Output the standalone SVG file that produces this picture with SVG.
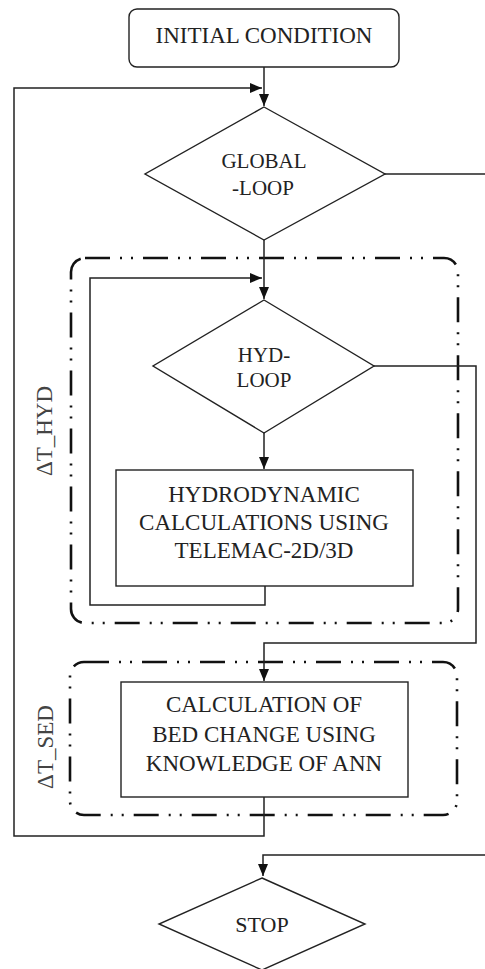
<svg xmlns="http://www.w3.org/2000/svg" width="485" height="969" viewBox="0 0 485 969">
<style>
.node{fill:#fff;stroke:#222;stroke-width:1.4}
.frame{fill:none;stroke:#111;stroke-width:2.6;stroke-dasharray:25 10 2 9 2 10}
.conn{fill:none;stroke:#222;stroke-width:1.5}
text{font-family:'Liberation Serif','Times New Roman',serif}
.t{fill:#222;text-anchor:middle}
.box{font-size:23px}
.dia{font-size:21px}
.lab{fill:#444;font-size:23px;text-anchor:middle}
</style>
<defs>
<marker id="ah" markerUnits="userSpaceOnUse" markerWidth="12" markerHeight="10" refX="12" refY="5" orient="auto" viewBox="0 0 12 10">
<path d="M0,0 L12,5 L0,10 z" fill="#111"/>
</marker>
</defs>
<g id="frames">
<rect id="frame-hyd" class="frame" x="71" y="258" width="387" height="365" rx="14"/>
<rect id="frame-sed" class="frame" x="70" y="662" width="387" height="153" rx="14"/>
<text class="lab" transform="translate(52,431) rotate(-90)">ΔT_HYD</text>
<text class="lab" transform="translate(53,747) rotate(-90)">ΔT_SED</text>
</g>
<g id="connectors">
<path class="conn" d="M264,67 V106" marker-end="url(#ah)"/>
<path class="conn" d="M264,797 V836 H14 V88 H262" marker-end="url(#ah)"/>
<path class="conn" d="M264,240 V299" marker-end="url(#ah)"/>
<path class="conn" d="M265,586 V605 H90 V278 H262" marker-end="url(#ah)"/>
<path class="conn" d="M264,433 V469" marker-end="url(#ah)"/>
<path class="conn" d="M374,366 H476 V643 H264 V681" marker-end="url(#ah)"/>
<path class="conn" d="M385,174 H485"/>
<path class="conn" d="M485,855 H263 V876" marker-end="url(#ah)"/>
</g>
<g id="initial">
<rect class="node" x="129" y="9" width="270" height="58" rx="8"/>
<text class="t box" x="264" y="43">INITIAL CONDITION</text>
</g>
<g id="global-loop">
<polygon class="node" points="264,107 385,174 264,240 145,174"/>
<text class="t dia" x="264" y="168">GLOBAL</text>
<text class="t dia" x="263" y="195">-LOOP</text>
</g>
<g id="hyd-loop">
<polygon class="node" points="264,300 374,366 264,433 153,366"/>
<text class="t dia" x="264" y="362">HYD-</text>
<text class="t dia" x="264" y="387">LOOP</text>
</g>
<g id="hydrodynamic">
<rect class="node" x="116" y="470" width="297" height="116"/>
<text class="t box" x="264" y="502">HYDRODYNAMIC</text>
<text class="t box" x="264" y="530">CALCULATIONS USING</text>
<text class="t box" x="264" y="558">TELEMAC-2D/3D</text>
</g>
<g id="bed-change">
<rect class="node" x="121" y="682" width="287" height="115"/>
<text class="t box" x="264" y="712">CALCULATION OF</text>
<text class="t box" x="264" y="742">BED CHANGE USING</text>
<text class="t box" x="264" y="771">KNOWLEDGE OF ANN</text>
</g>
<g id="stop">
<polygon class="node" points="262,878 365,924 262,970 159,924"/>
<text class="t" style="font-size:22px" x="262" y="932">STOP</text>
</g>
</svg>
